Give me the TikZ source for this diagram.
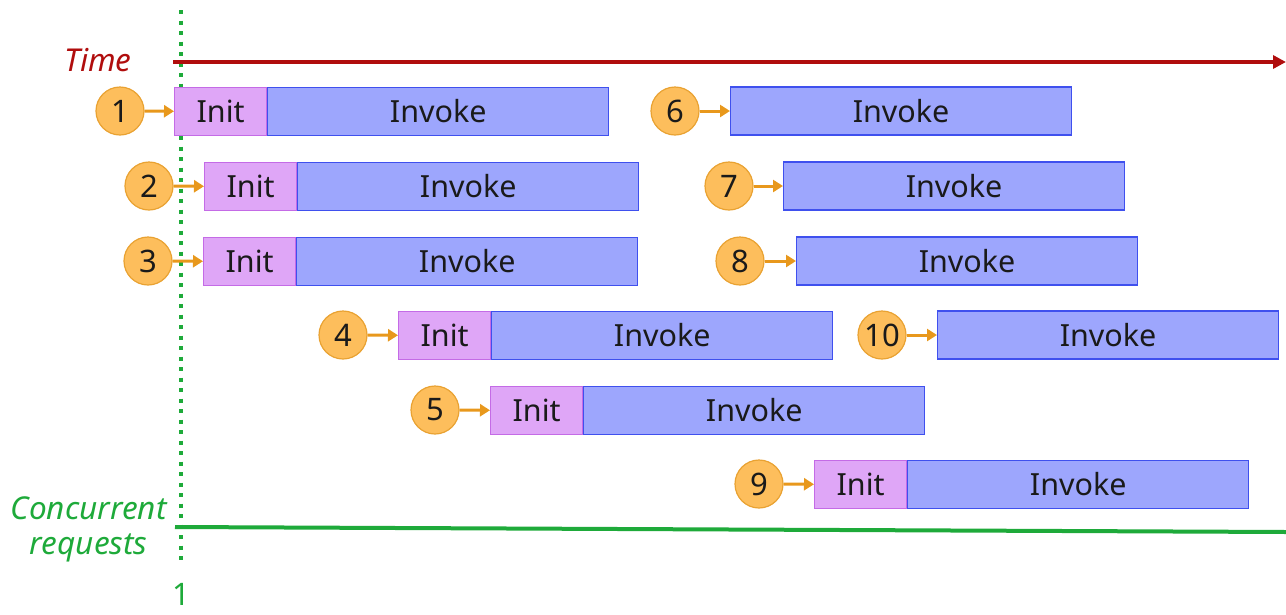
\documentclass[tikz,border=0pt]{standalone}
\usepackage{fontspec}
\setmainfont{Noto Sans}
\usetikzlibrary{arrows.meta}
\definecolor{initfill}{HTML}{DFA6F7}
\definecolor{initdraw}{HTML}{C46BE6}
\definecolor{invfill}{HTML}{9DA6FD}
\definecolor{invdraw}{HTML}{3F50EE}
\definecolor{circfill}{HTML}{FDBE5C}
\definecolor{circdraw}{HTML}{E9A232}
\definecolor{arrcol}{HTML}{E8981C}
\definecolor{timered}{HTML}{B00D0D}
\definecolor{grn}{HTML}{1EAA3A}
\definecolor{txt}{HTML}{1A1A1A}
\begin{document}
\begin{tikzpicture}[x=1pt,y=-1pt,
  initbox/.style={draw=initdraw,fill=initfill,line width=1.2pt,minimum width=92pt,minimum height=48pt,inner sep=0pt,anchor=west,text=txt,font=\fontsize{30.5}{32}\selectfont},
  invbox/.style={draw=invdraw,fill=invfill,line width=1.2pt,minimum width=341pt,minimum height=48pt,inner sep=0pt,anchor=west,text=txt,font=\fontsize{30.5}{32}\selectfont},
  numc/.style={circle,draw=circdraw,fill=circfill,line width=1.2pt,minimum size=48pt,inner sep=0pt,text=txt,font=\fontsize{31}{32}\selectfont},
  arr/.style={draw=arrcol,line width=3pt,-{Triangle[length=10pt,width=12pt]}},
  lbl/.style={font=\itshape\fontsize{31.5}{36}\selectfont}]
\useasboundingbox (0,0) rectangle (1286,614);
% axes
\coordinate (vt) at (181,10);
\coordinate (vb) at (181,562);
\draw[grn,line width=4pt,dash pattern=on 4pt off 6.5pt] (vt) -- (vb);
\node[text=grn,font=\fontsize{31}{32}\selectfont] (one) at (181,594) {1};
\coordinate (ts) at (173,62);
\coordinate (te) at (1286,62);
\draw[timered,line width=3.5pt,-{Triangle[length=13pt,width=13pt]}] (ts) -- (te);
\node[lbl,text=timered] (time) at (98,60) {Time};
\coordinate (cs) at (175,527);
\coordinate (ce) at (1286,532);
\draw[grn,line width=4pt] (cs) -- (ce);
\node[lbl,text=grn,anchor=east] (conc) at (170,508) {Concurrent};
\node[lbl,text=grn,anchor=east] (req) at (151,548) {requests};
% row 1
\node[numc] (c1) at (120,111) {1};
\node[initbox] (i1) at (174,111.5) {Init};
\node[invbox] (v1) at (i1.east) {Invoke};
\draw[arr] (c1) -- (i1);
% row 6
\node[numc] (c6) at (675,111) {6};
\node[invbox] (v6) at (730,111) {Invoke};
\draw[arr] (c6) -- (v6);
% row 2
\node[numc] (c2) at (149,186) {2};
\node[initbox] (i2) at (204,186.5) {Init};
\node[invbox] (v2) at (i2.east) {Invoke};
\draw[arr] (c2) -- (i2);
% row 7
\node[numc] (c7) at (729,186) {7};
\node[invbox] (v7) at (783,186) {Invoke};
\draw[arr] (c7) -- (v7);
% row 3
\node[numc] (c3) at (148,261) {3};
\node[initbox] (i3) at (203,261.5) {Init};
\node[invbox] (v3) at (i3.east) {Invoke};
\draw[arr] (c3) -- (i3);
% row 8
\node[numc] (c8) at (740,261) {8};
\node[invbox] (v8) at (796,261) {Invoke};
\draw[arr] (c8) -- (v8);
% row 4
\node[numc] (c4) at (343,335) {4};
\node[initbox] (i4) at (398,335.5) {Init};
\node[invbox] (v4) at (i4.east) {Invoke};
\draw[arr] (c4) -- (i4);
% row 10
\node[numc] (c10) at (882,335) {10};
\node[invbox] (v10) at (937,335) {Invoke};
\draw[arr] (c10) -- (v10);
% row 5
\node[numc] (c5) at (435,410) {5};
\node[initbox] (i5) at (490,410.5) {Init};
\node[invbox] (v5) at (i5.east) {Invoke};
\draw[arr] (c5) -- (i5);
% row 9
\node[numc] (c9) at (759,484) {9};
\node[initbox] (i9) at (814,484.5) {Init};
\node[invbox] (v9) at (i9.east) {Invoke};
\draw[arr] (c9) -- (i9);
\end{tikzpicture}
\end{document}
